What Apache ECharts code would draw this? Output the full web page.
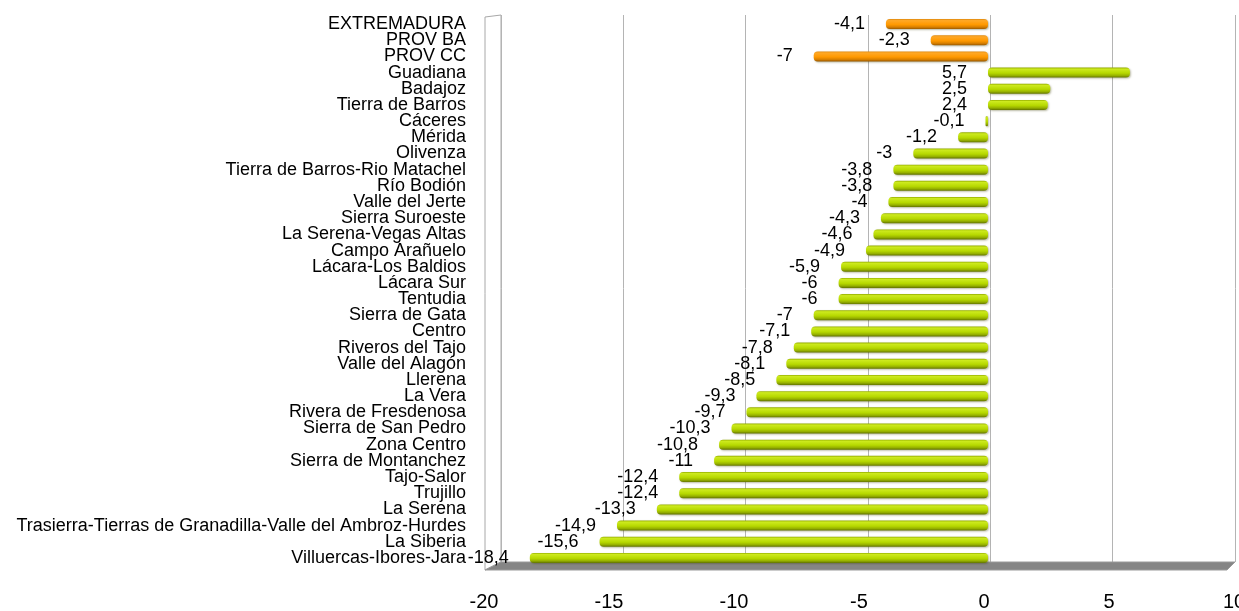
<!DOCTYPE html>
<html>
<head>
<meta charset="utf-8">
<script src="https://cdn.jsdelivr.net/npm/echarts@6/dist/echarts.min.js"></script>
<style>
  html, body { margin: 0; padding: 0; background: #fff; }
  #chart { width: 1239px; height: 611px; }
</style>
</head>
<body>
<div id="chart"></div>
<script>
const comarcas = [
    'EXTREMADURA', 'PROV BA', 'PROV CC', 'Guadiana', 'Badajoz', 'Tierra de Barros',
    'Cáceres', 'Mérida', 'Olivenza', 'Tierra de Barros-Rio Matachel', 'Río Bodión',
    'Valle del Jerte', 'Sierra Suroeste', 'La Serena-Vegas Altas', 'Campo Arañuelo',
    'Lácara-Los Baldios', 'Lácara Sur', 'Tentudia', 'Sierra de Gata', 'Centro',
    'Riveros del Tajo', 'Valle del Alagón', 'Llerena', 'La Vera', 'Rivera de Fresdenosa',
    'Sierra de San Pedro', 'Zona Centro', 'Sierra de Montanchez', 'Tajo-Salor', 'Trujillo',
    'La Serena', 'Trasierra-Tierras de Granadilla-Valle del Ambroz-Hurdes', 'La Siberia',
    'Villuercas-Ibores-Jara'
];

const variacion = [
    -4.1, -2.3, -7, 5.7, 2.5, 2.4,
    -0.1, -1.2, -3, -3.8, -3.8,
    -4, -4.3, -4.6, -4.9,
    -5.9, -6, -6, -7, -7.1,
    -7.8, -8.1, -8.5, -9.3, -9.7,
    -10.3, -10.8, -11, -12.4, -12.4,
    -13.3, -14.9, -15.6,
    -18.4
];

// regional / provincial totals come first and are drawn in orange
const totales = ['EXTREMADURA', 'PROV BA', 'PROV CC'];

const xTicks = { min: -20, max: 10, interval: 5 };

// layout (px)
const wall = { left: 501, width: 734, top: 15, bottomY: 562 };
const bars = { left: 490, width: 747, top: 16, bottomY: 566 };
const front = { left: 484, width: 750, bottomY: 570 };
const H = 611;

const chart = echarts.init(document.getElementById('chart'));

const grad = (stops) => new echarts.graphic.LinearGradient(0, 0, 0, 1,
    stops.map(([o, c]) => ({ offset: o, color: c })));

const naranja = grad([[0, '#E08A10'], [0.15, '#FFA826'], [0.55, '#FF9900'], [0.8, '#D98000'], [1, '#985800']]);
const verde = grad([[0, '#94AC00'], [0.15, '#CDEA1E'], [0.55, '#B6D800'], [0.8, '#96B000'], [1, '#627400']]);

const datos = variacion.map((v, i) => ({
    value: v,
    itemStyle: { color: totales.includes(comarcas[i]) ? naranja : verde }
}));

const font = 'Liberation Sans, Arial, sans-serif';

const option = {
    animation: false,
    backgroundColor: '#fff',
    grid: [
        { left: wall.left, width: wall.width, top: wall.top, bottom: H - wall.bottomY, outerBoundsMode: 'none' },
        { left: bars.left, width: bars.width, top: bars.top, bottom: H - bars.bottomY, outerBoundsMode: 'none' },
        { left: front.left, width: front.width, top: 15, bottom: H - front.bottomY, outerBoundsMode: 'none' }
    ],
    xAxis: [
        {
            gridIndex: 0, type: 'value', ...xTicks,
            axisLine: { show: false }, axisTick: { show: false }, axisLabel: { show: false },
            splitLine: { show: true, lineStyle: { color: '#b4b4b4', width: 1 } }
        },
        {
            gridIndex: 1, type: 'value', ...xTicks,
            axisLine: { show: false }, axisTick: { show: false }, axisLabel: { show: false },
            splitLine: { show: false }
        },
        {
            gridIndex: 2, type: 'value', ...xTicks,
            axisLine: { show: false }, axisTick: { show: false },
            splitLine: { show: false },
            axisLabel: {
                show: true, margin: 22, color: '#000',
                fontFamily: font, fontSize: 20,
                showMinLabel: true, showMaxLabel: true
            }
        }
    ],
    yAxis: [
        { gridIndex: 0, type: 'value', show: false },
        {
            gridIndex: 1, type: 'category', data: comarcas, inverse: true,
            axisLine: { show: false }, axisTick: { show: false },
            axisLabel: { margin: 24, color: '#000', fontFamily: font, fontSize: 18, interval: 0 }
        },
        { gridIndex: 2, type: 'value', show: false }
    ],
    graphic: [
        {
            type: 'polygon', z: -1,
            shape: { points: [[485, 17], [wall.left, wall.top], [wall.left, wall.bottomY], [485, front.bottomY]] },
            style: { fill: '#fff', stroke: '#a8a8a8', lineWidth: 1 }
        },
        {
            type: 'polygon', z: 1,
            shape: { points: [
                [wall.left, wall.bottomY], [wall.left + wall.width, wall.bottomY],
                [1227, front.bottomY], [485, front.bottomY]
            ] },
            style: { fill: '#858585', stroke: '#9a9a9a', lineWidth: 1 }
        }
    ],
    series: [
        {
            type: 'bar',
            xAxisIndex: 1,
            yAxisIndex: 1,
            data: datos,
            barWidth: 10,
            z: 3,
            itemStyle: {
                borderRadius: 4,
                shadowColor: 'rgba(60,60,0,0.35)',
                shadowBlur: 2,
                shadowOffsetX: 1,
                shadowOffsetY: 1
            },
            label: {
                show: true,
                position: 'left',
                distance: 21,
                color: '#000',
                fontFamily: font,
                fontSize: 18,
                formatter: (p) => String(p.value).replace('.', ',')
            }
        }
    ]
};

chart.setOption(option);
</script>
</body>
</html>
